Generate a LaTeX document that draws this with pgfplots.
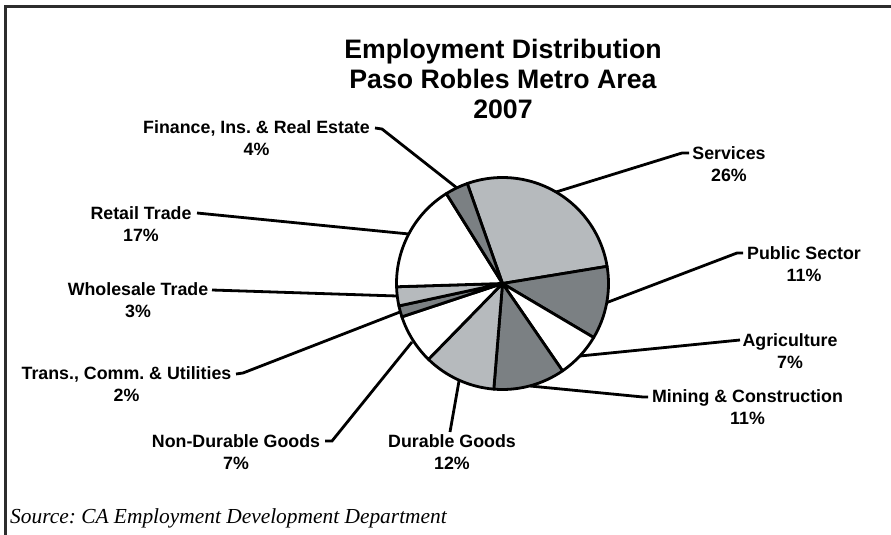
\documentclass[border=0pt]{standalone}
\usepackage{pgfplots}
\pgfplotsset{compat=1.18}
\usepackage{fontspec}
\setmainfont{Liberation Sans}
\newfontfamily\sourcefont{Liberation Serif}

\definecolor{lightgr}{RGB}{182,186,189}
\definecolor{darkgr}{RGB}{123,128,131}
\definecolor{framegr}{RGB}{45,45,45}

\tikzset{lbl/.style={font=\fontsize{17.8}{22}\selectfont\bfseries, align=center, inner sep=0pt}}

\begin{document}
\frenchspacing
\begin{tikzpicture}
\begin{axis}[
    width=891pt, height=535pt, scale only axis,
    xmin=0, xmax=891, ymin=0, ymax=535, y dir=reverse,
    hide axis, clip=false,
]
% frame (top and left only, the rest is cropped away)
\draw[framegr, line width=3pt] (axis cs:5,535) -- (axis cs:5,7) -- (axis cs:891,7);

% slices: share in %, fill colour, clockwise from the top
\def\a{109.4}
\pgfplotsforeachungrouped \v/\c in {27.8/lightgr, 11.1/darkgr, 6.9/white, 10.9/darkgr, 11.0/lightgr,
                                    7.6/white, 1.7/darkgr, 2.9/lightgr, 16.6/white, 3.5/darkgr}{%
  \pgfmathsetmacro\b{\a-3.6*\v}%
  \edef\slice{\noexpand\filldraw[fill=\c, draw=black, line width=2.8pt, line join=round]
     (axis cs:502.5,283.5) -- ++(\a:106pt) arc[start angle=\a, end angle=\b, radius=106pt] -- cycle;}%
  \slice
  \global\let\a\b
}

% leader lines
\addplot[black, line width=2.8pt, mark=none] coordinates {(556,192) (682,153) (689,153)};
\addplot[black, line width=2.8pt, mark=none] coordinates {(607,302.5) (737,253) (743,253)};
\addplot[black, line width=2.8pt, mark=none] coordinates {(580,356) (740,340)};
\addplot[black, line width=2.8pt, mark=none] coordinates {(530,386) (643,397) (648,397)};
\addplot[black, line width=2.8pt, mark=none] coordinates {(459,381) (450,432)};
\addplot[black, line width=2.8pt, mark=none] coordinates {(412,342) (332,441) (325,441)};
\addplot[black, line width=2.8pt, mark=none] coordinates {(400,312) (243,373) (236,374)};
\addplot[black, line width=2.8pt, mark=none] coordinates {(397,296) (212,290)};
\addplot[black, line width=2.8pt, mark=none] coordinates {(409,234) (197,213)};
\addplot[black, line width=2.8pt, mark=none] coordinates {(457,188) (382,129) (375,128)};

% title
\node[font=\fontsize{26.7}{30}\selectfont\bfseries, align=center] at (axis cs:503,79)
  {Employment Distribution\\Paso Robles Metro Area\\2007};

% labels
\node[lbl] at (axis cs:729,164) {Services\\26\%};
\node[lbl] at (axis cs:804,264) {Public Sector\\11\%};
\node[lbl] at (axis cs:790,351) {Agriculture\\7\%};
\node[lbl] at (axis cs:747.5,407.5) {Mining \& Construction\\11\%};
\node[lbl] at (axis cs:452,452) {Durable Goods\\12\%};
\node[lbl] at (axis cs:236,452) {Non-Durable Goods\\7\%};
\node[lbl] at (axis cs:126.5,384.5) {Trans., Comm. \& Utilities\\2\%};
\node[lbl] at (axis cs:138,300) {Wholesale Trade\\3\%};
\node[lbl] at (axis cs:141,224) {Retail Trade\\17\%};
\node[lbl] at (axis cs:256.5,138.5) {Finance, Ins. \& Real Estate\\4\%};

% source
\node[anchor=west, inner sep=0pt, font=\sourcefont\itshape\fontsize{21.4}{24}\selectfont]
  at (axis cs:10,518) {Source: CA Employment Development Department};
\end{axis}
\pgfresetboundingbox
\path (0,0) rectangle (891pt,535pt);
\end{tikzpicture}
\end{document}
